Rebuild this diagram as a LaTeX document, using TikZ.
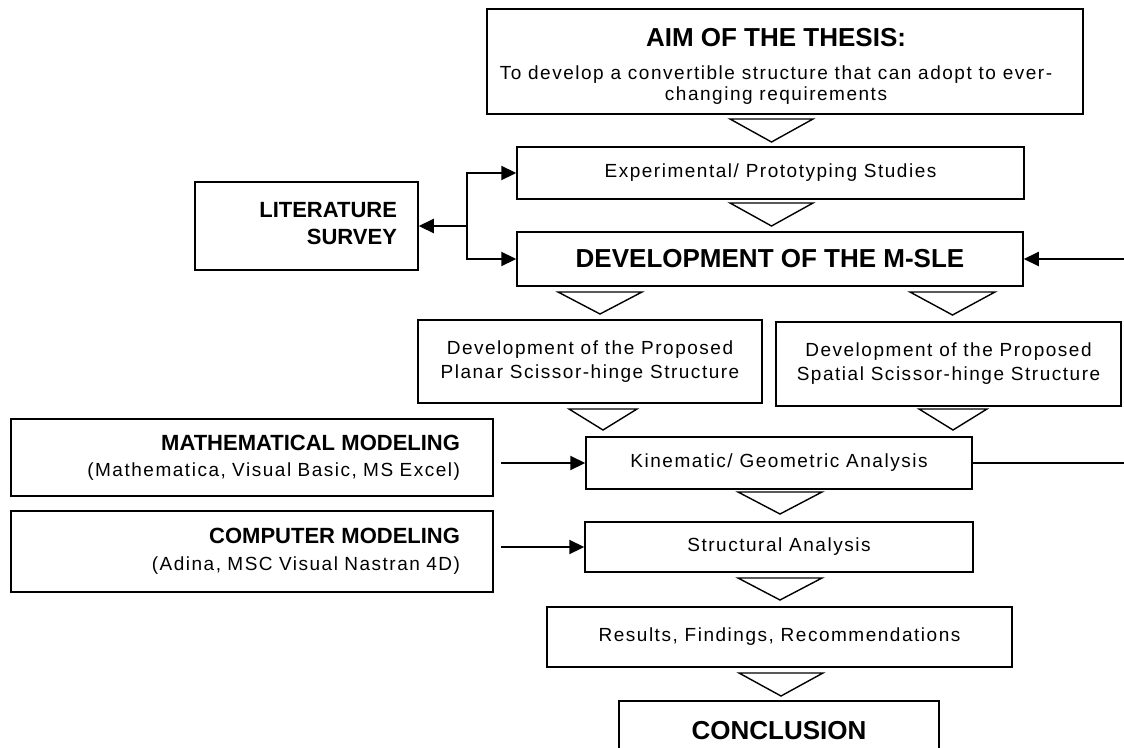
\documentclass[tikz,border=0pt]{standalone}
\usepackage{fontspec}
\setmainfont{Liberation Sans}
\newfontfamily\spacedfont[LetterSpace=8]{Liberation Sans}
\usetikzlibrary{arrows.meta,calc}
\newcommand\txtreg{\spacedfont\fontsize{19}{22}\selectfont}
\newcommand\txtaim{\spacedfont\fontsize{19}{21}\selectfont}
\newcommand\txtbig{\normalfont\bfseries\fontsize{26}{30}\selectfont}
\newcommand\txtbold{\normalfont\bfseries\fontsize{22}{28}\selectfont}
\begin{document}
\begin{tikzpicture}[x=1pt,y=-1pt,
  box/.style={draw, line width=1.5pt, inner sep=0pt, align=center, font=\txtreg},
  flowtri/.style={draw, line width=1.4pt, line join=miter},
  arr/.style={line width=2.2pt, -{Triangle[length=15pt,width=14pt]}},
  plainline/.style={line width=2.2pt}]
\fill[white] (0,0) rectangle (1124,747);
\useasboundingbox (0,0) rectangle (1124,747);
\clip (0,0) rectangle (1124,747);

% boxes
\node[box, minimum width=596pt, minimum height=105pt] (aim) at (785,61.5) {};
\node[font=\txtaim, align=center, inner sep=0pt, anchor=north] (aimtxt) at (776,28)
  {{\txtbig AIM OF THE THESIS:}\\[12pt]To develop a convertible structure that can adopt to ever-\\changing requirements};
\node[box, minimum width=507pt, minimum height=52pt] (exp) at (770.5,173) {Experimental/ Prototyping Studies};
\node[box, minimum width=506pt, minimum height=54pt, font=\txtbig] (dev) at (770,259) {DEVELOPMENT OF THE M-SLE};
\node[box, minimum height=88pt, text width=181pt, inner xsep=21pt, align=right, font=\txtbold] (lit) at (306.5,226) {LITERATURE\\[-1pt]SURVEY\rule[-6pt]{0pt}{6pt}};
\node[box, minimum width=344pt, minimum height=83pt] (planar) at (590,361.5) {Development of the Proposed\\[2pt]Planar Scissor-hinge Structure};
\node[box, minimum width=345pt, minimum height=84pt] (spatial) at (948.5,364) {Development of the Proposed\\[2pt]Spatial Scissor-hinge Structure};
\node[box, minimum width=386pt, minimum height=52pt] (kin) at (779,463) {Kinematic/ Geometric Analysis};
\node[box, minimum height=77pt, text width=416pt, inner xsep=33pt, align=right] (math) at (252,457.5)
  {{\txtbold MATHEMATICAL MODELING}\\[4pt](Mathematica, Visual Basic, MS Excel)};
\node[box, minimum width=388pt, minimum height=50pt] (struct) at (779,547) {Structural Analysis};
\node[box, minimum height=81pt, text width=416pt, inner xsep=33pt, align=right] (comp) at (252,551.5)
  {{\txtbold COMPUTER MODELING}\\[5pt](Adina, MSC Visual Nastran 4D)};
\node[box, minimum width=465pt, minimum height=60pt] (res) at (779.5,637) {Results, Findings, Recommendations};
\node[box, minimum width=320pt, minimum height=59pt, font=\txtbig] (concl) at (779,730.5) {CONCLUSION};

% hollow flow triangles
\draw[flowtri] (730,119) -- (813,119) -- (771.5,142) -- cycle;
\draw[flowtri] (730,203) -- (813,203) -- (771.5,226) -- cycle;
\draw[flowtri] (558,292) -- (642,292) -- (600,314) -- cycle;
\draw[flowtri] (910,292) -- (995,292) -- (952.5,315) -- cycle;
\draw[flowtri] (569,409) -- (637,409) -- (603,430) -- cycle;
\draw[flowtri] (919,409) -- (987,409) -- (953,430) -- cycle;
\draw[flowtri] (738,492) -- (822,492) -- (780,514) -- cycle;
\draw[flowtri] (738,578) -- (822,578) -- (780,600) -- cycle;
\draw[flowtri] (739,673) -- (823,673) -- (781,696) -- cycle;

% connectors
\coordinate (br) at (467,226);
\draw[arr] (br) -- (lit.east);
\draw[arr] (br) |- (exp.west);
\draw[arr] (br) |- (dev.west);
\coordinate (rin) at (1124,259);
\draw[arr] (rin) -- (dev.east);
\coordinate (rout) at (1124,463);
\draw[plainline] (kin.east) -- (rout);
\coordinate (mo) at ([xshift=7pt]math.east);
\draw[arr] (mo |- kin.west) -- (kin.west);
\coordinate (co) at ([xshift=7pt]comp.east);
\draw[arr] (co |- struct.west) -- (struct.west);
\end{tikzpicture}
\end{document}
